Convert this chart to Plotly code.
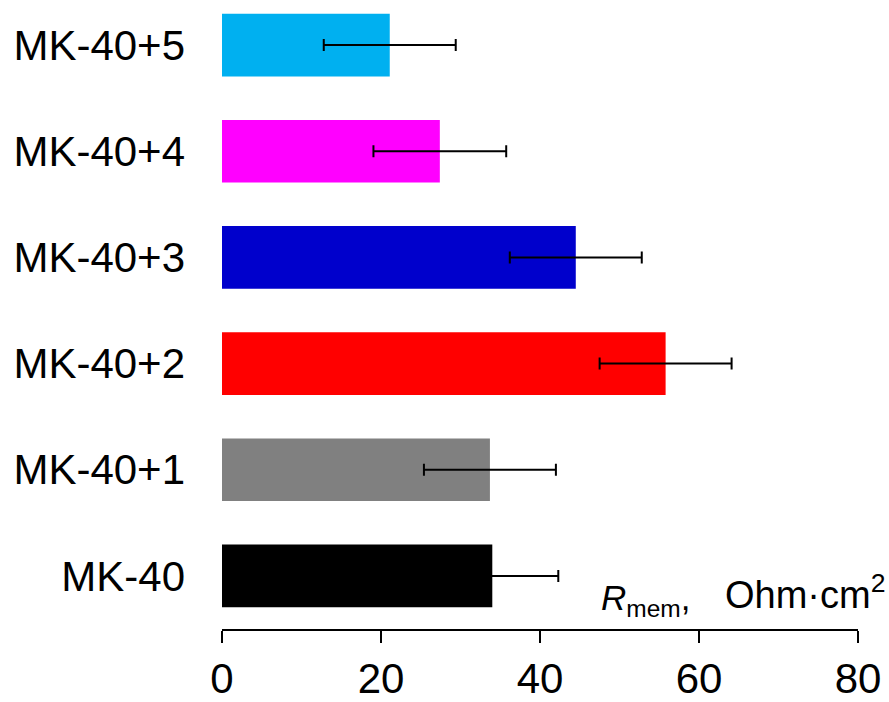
import plotly.graph_objects as go

categories = ["MK-40", "MK-40+1", "MK-40+2", "MK-40+3", "MK-40+4", "MK-40+5"]
values = [34.0, 33.7, 55.8, 44.5, 27.4, 21.1]
errors = [8.3, 8.3, 8.3, 8.3, 8.35, 8.3]
colors = ["#000000", "#808080", "#FF0000", "#0000CC", "#FF00FF", "#00B0F0"]
x_ticks = [0, 20, 40, 60, 80]

FONT = "Arial, Liberation Sans, sans-serif"

fig = go.Figure()
fig.add_trace(go.Bar(
    y=categories, x=values, orientation="h",
    marker=dict(color=colors, line=dict(width=0)),
    error_x=dict(type="data", array=errors, visible=True,
                 color="black", thickness=2, width=6),
    showlegend=False,
))

fig.update_layout(
    width=889, height=702,
    margin=dict(l=222, r=31, t=0, b=68),
    plot_bgcolor="white", paper_bgcolor="white",
    bargap=0.41,
    font=dict(family=FONT, color="black"),
    xaxis=dict(range=[0, 80], tickvals=x_ticks, ticks="outside", ticklen=12,
               tickwidth=2, tickcolor="black", showline=True, linewidth=2,
               linecolor="black", showgrid=False, zeroline=False,
               tickfont=dict(size=42, family=FONT, color="black")),
    yaxis=dict(type="category", range=[-0.5, 5.425], showgrid=False,
               zeroline=False, showline=False, ticks="",
               ticklabelstandoff=36,
               tickfont=dict(size=42, family=FONT, color="black")),
    annotations=[
        dict(text="<i>R</i><sub>mem</sub>,",
             xref="paper", yref="paper", x=0.592, y=0.008,
             xanchor="left", yanchor="bottom", showarrow=False,
             font=dict(size=35, family=FONT, color="black")),
        dict(text="Ohm·cm<sup>2</sup>",
             xref="paper", yref="paper", x=1.045, y=0.017,
             xanchor="right", yanchor="bottom", showarrow=False,
             font=dict(size=38, family=FONT, color="black")),
    ],
)

fig.write_html("out.html")
